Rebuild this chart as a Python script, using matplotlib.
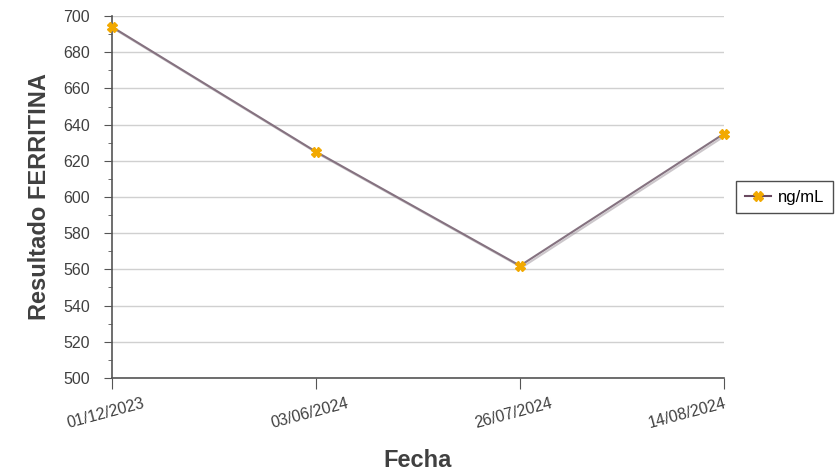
import matplotlib
matplotlib.use("Agg")
import matplotlib.pyplot as plt
import matplotlib.patheffects as pe
import matplotlib.transforms as mtransforms
from matplotlib.lines import Line2D
from matplotlib.ticker import MultipleLocator

plt.rcParams['font.family'] = ['Liberation Sans', 'DejaVu Sans']

# Ferritin results per sampling date
fechas = ["01/12/2023", "03/06/2024", "26/07/2024", "14/08/2024"]
ferritina = [694, 625, 562, 635]
serie = "ng/mL"

fig = plt.figure(figsize=(8.38, 4.73), dpi=100)
ax = fig.add_axes([0.1337, 0.201, 0.7303, 0.765])

x = list(range(len(fechas)))
# line with a soft drop shadow, markers drawn on top without it
ax.plot(x, ferritina, color='#857280', linewidth=1.5, zorder=3,
        path_effects=[pe.SimpleLineShadow(offset=(1.2, -1.2), shadow_color='#9a9098', alpha=0.5),
                      pe.Normal()])
ax.plot(x, ferritina, linestyle='none', marker='X', markersize=6.5,
        markerfacecolor='#f2a900', markeredgecolor='#f2a900', zorder=4, clip_on=False)

ax.set_xlim(0, len(fechas) - 1)
ax.set_ylim(500, 700)
ax.yaxis.set_major_locator(MultipleLocator(20))
ax.yaxis.set_minor_locator(MultipleLocator(10))
ax.set_xticks(x)
ax.set_xticklabels(fechas, rotation=15, ha='center', color='#404040', fontsize=11.5)
ax.tick_params(axis='y', which='major', length=6, color='#555555', labelcolor='#404040', labelsize=11.5, pad=10)
ax.tick_params(axis='y', which='minor', length=3, color='#555555')
ax.tick_params(axis='x', length=8, color='#555555', pad=5)

# nudge the date labels a little left, the last one kept inside the plot width
shift = mtransforms.ScaledTranslation(-6 / 100, 0, fig.dpi_scale_trans)
labels = ax.get_xticklabels()
for lab in labels[:-1]:
    lab.set_transform(lab.get_transform() + shift)
labels[-1].set_horizontalalignment('right')
labels[-1].set_transform(labels[-1].get_transform()
                         + mtransforms.ScaledTranslation(4 / 100, 0, fig.dpi_scale_trans))

ax.grid(axis='y', color='#d0d0d0', linewidth=1)
ax.set_axisbelow(True)
for side in ('top', 'right'):
    ax.spines[side].set_visible(False)
for side in ('left', 'bottom'):
    ax.spines[side].set_color('#555555')
    ax.spines[side].set_linewidth(1.2)

ax.set_ylabel("Resultado FERRITINA", fontsize=17, fontweight='bold', color='#404040', labelpad=9)
ax.set_xlabel("Fecha", fontsize=17, fontweight='bold', color='#404040', labelpad=13)

handle = Line2D([], [], color='#6a4a60', linewidth=1.5, marker='X', markersize=6.5,
                markerfacecolor='#f2a900', markeredgecolor='#f2a900')
leg = ax.legend([handle], [serie], loc='center left', bbox_to_anchor=(1.02, 0.5), fontsize=12,
                frameon=True, fancybox=False, handlelength=1.6, handletextpad=0.4,
                borderpad=0.5, borderaxespad=0)
leg.get_frame().set_edgecolor('#222222')
leg.get_frame().set_linewidth(1)

fig.savefig("out.png", dpi=100)
